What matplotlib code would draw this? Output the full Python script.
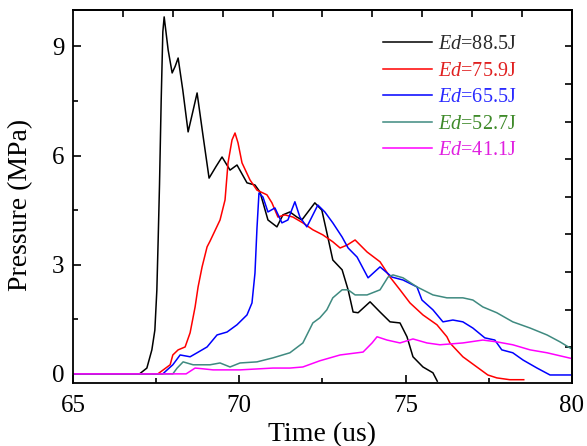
import numpy as np
import matplotlib
matplotlib.use("Agg")
import matplotlib.pyplot as plt

plt.rcParams['font.family'] = 'Liberation Serif'
plt.rcParams['mathtext.fontset'] = 'custom'
plt.rcParams['mathtext.rm'] = 'Liberation Serif'
plt.rcParams['mathtext.it'] = 'Liberation Serif:italic'

# pressure traces, time in us, pressure in MPa
t_885 = [65.0, 67.0, 67.22, 67.37, 67.46, 67.52, 67.56, 67.6, 67.65, 67.7, 67.74, 67.86, 67.98, 68.07, 68.16, 68.3,
         68.46, 68.6, 68.73, 68.9, 69.09, 69.3, 69.48, 69.72, 69.93, 70.23, 70.47, 70.62, 70.86, 71.13, 71.31,
         71.52, 71.73, 71.88, 72.27, 72.48, 72.66, 72.81, 73.09, 73.27, 73.42, 73.57, 73.93, 74.23, 74.53,
         74.83, 75.04, 75.22, 75.52, 75.82, 75.95]
p_885 = [0.0, 0.0, 0.16, 0.66, 1.2, 2.3, 3.7, 5.2, 7.5, 9.4, 9.81, 8.9, 8.27, 8.45, 8.68, 7.8,
         6.65, 7.2, 7.72, 6.6, 5.38, 5.7, 5.96, 5.6, 5.74, 5.25, 5.19, 5.0, 4.23, 4.04, 4.37,
         4.45, 4.31, 4.23, 4.7, 4.5, 3.76, 3.13, 2.86, 2.31, 1.7, 1.68, 1.98, 1.7, 1.43,
         1.4, 1.02, 0.47, 0.19, 0.03, -0.2]

t_759 = [65.0, 67.55, 67.92, 68.0, 68.16, 68.37, 68.52, 68.67, 68.76, 68.88, 69.03, 69.12, 69.42, 69.57,
         69.66, 69.78, 69.87, 69.96, 70.08, 70.32, 70.53, 70.83, 70.98, 71.16, 71.37, 71.61, 71.91, 72.21,
         72.51, 72.81, 73.03, 73.24, 73.48, 73.84, 74.23, 74.53, 74.83, 75.13, 75.52, 75.94, 76.24, 76.33,
         76.72, 77.14, 77.47, 77.74, 78.13, 78.55]
p_759 = [0.0, 0.0, 0.25, 0.52, 0.66, 0.74, 1.13, 1.84, 2.39, 2.94, 3.49, 3.65, 4.23, 4.78,
         5.8, 6.43, 6.62, 6.35, 5.8, 5.33, 5.05, 4.92, 4.7, 4.31, 4.37, 4.31, 4.15, 3.96,
         3.82, 3.63, 3.46, 3.54, 3.68, 3.35, 3.08, 2.66, 2.31, 1.95, 1.62, 1.35, 1.02, 0.85,
         0.47, 0.19, -0.03, -0.11, -0.16, -0.16]

t_655 = [65.0, 67.7, 67.83, 68.0, 68.22, 68.52, 68.73, 69.03, 69.33, 69.63, 69.93, 70.23, 70.38, 70.47,
         70.53, 70.59, 70.71, 70.86, 71.07, 71.28, 71.46, 71.67, 71.82, 72.03, 72.36, 72.57, 72.81, 73.09,
         73.27, 73.54, 73.87, 74.23, 74.59, 74.92, 75.34, 75.49, 75.82, 76.12, 76.42, 76.72, 77.02, 77.38,
         77.68, 77.89, 78.22, 78.53, 78.95, 79.34, 80.0]
p_655 = [0.0, 0.0, 0.11, 0.25, 0.52, 0.47, 0.58, 0.74, 1.07, 1.15, 1.35, 1.62, 1.95, 2.77,
         4.0, 4.97, 4.86, 4.45, 4.56, 4.15, 4.23, 4.73, 4.31, 4.04, 4.64, 4.45, 4.15, 3.76,
         3.46, 3.21, 2.64, 2.94, 2.66, 2.58, 2.39, 2.03, 1.76, 1.43, 1.48, 1.43, 1.26, 0.99,
         0.93, 0.66, 0.58, 0.38, 0.16, -0.03, -0.03]

t_527 = [65.0, 68.0, 68.13, 68.31, 68.61, 69.12, 69.42, 69.72, 70.02, 70.53, 71.01, 71.52, 71.91, 72.21,
         72.42, 72.63, 72.81, 73.09, 73.27, 73.48, 73.84, 74.23, 74.47, 74.62, 74.92, 75.34, 75.82, 76.24,
         76.72, 77.02, 77.32, 77.74, 78.22, 78.74, 79.25, 79.64, 80.0]
p_527 = [0.0, 0.0, 0.16, 0.33, 0.25, 0.25, 0.3, 0.19, 0.3, 0.33, 0.44, 0.58, 0.85, 1.4,
         1.54, 1.76, 2.09, 2.31, 2.31, 2.17, 2.17, 2.31, 2.66, 2.72, 2.64, 2.39, 2.17, 2.09,
         2.09, 2.03, 1.84, 1.68, 1.43, 1.26, 1.07, 0.88, 0.68]

t_411 = [65.0, 68.4, 68.67, 68.9, 69.21, 70.02, 71.01, 71.52, 71.91, 72.42, 73.03, 73.72, 73.99, 74.14,
         74.44, 74.83, 75.22, 75.64, 76.03, 76.72, 77.32, 77.74, 78.22, 78.74, 79.25, 80.0]
p_411 = [0.0, 0.0, 0.16, 0.14, 0.11, 0.11, 0.16, 0.16, 0.19, 0.36, 0.52, 0.6, 0.85, 1.02,
         0.93, 0.85, 0.96, 0.85, 0.8, 0.85, 0.93, 0.88, 0.8, 0.66, 0.58, 0.42]

labels = [r'$Ed$=88.5J', r'$Ed$=75.9J', r'$Ed$=65.5J', r'$Ed$=52.7J', r'$Ed$=41.1J']
line_colors = ['#000000', '#ff0000', '#0000ff', '#3f8a80', '#ff00ff']
text_colors = ['#2a2a2a', '#e02020', '#2a2aff', '#3f8a2a', '#e020e0']

fig = plt.figure(figsize=(5.87, 4.46), dpi=100)
ax = fig.add_axes([0.1244, 0.1413, 0.85, 0.8363])

series = [(t_885, p_885), (t_759, p_759), (t_655, p_655), (t_527, p_527), (t_411, p_411)]
for (t, p), c, lab in zip(series, line_colors, labels):
    ax.plot(t, p, color=c, lw=1.1, label=lab)

ax.set_xlim(65, 80)
ax.set_ylim(-0.25, 10.0)
ax.set_xticks([65, 70, 75, 80])
ax.set_xticks([67.5, 72.5, 77.5], minor=True)
ax.set_yticks([0, 3, 6, 9])
ax.set_yticks([1.5, 4.5, 7.5], minor=True)
ax.tick_params(which='major', direction='in', length=6, width=1.2, labelsize=18)
ax.tick_params(axis='x', which='major', pad=9)
ax.tick_params(axis='y', which='major', pad=6)
ax.tick_params(which='minor', direction='in', length=3.5, width=1.2)
ax.tick_params(top=False, right=False)

# extra ticks on top and right spines
top = ax.secondary_xaxis('top')
top.set_xticks(np.arange(66.5, 79.0, 1.5))
top.tick_params(direction='in', length=5, width=1.2, labeltop=False)
right = ax.secondary_yaxis('right')
right.set_yticks(9 - 1.033 * np.arange(9))
right.tick_params(direction='in', length=5, width=1.2, labelright=False)
for a in (ax, top, right):
    for s in a.spines.values():
        s.set_linewidth(1.3)

ax.set_xlabel('Time (us)', fontsize=20, va='top')
ax.xaxis.set_label_coords(0.5, -0.105)
ax.set_ylabel('Pressure (MPa)', fontsize=20)
ax.yaxis.set_label_coords(-0.08, 0.477)

leg = ax.legend(loc='upper left', bbox_to_anchor=(0.621, 0.933), frameon=False, fontsize=14.5,
                handlelength=2.44, handletextpad=0.3, labelspacing=0.37, borderpad=0, borderaxespad=0)
for txt, c in zip(leg.get_texts(), text_colors):
    txt.set_color(c)

fig.savefig('out.png', dpi=100)
